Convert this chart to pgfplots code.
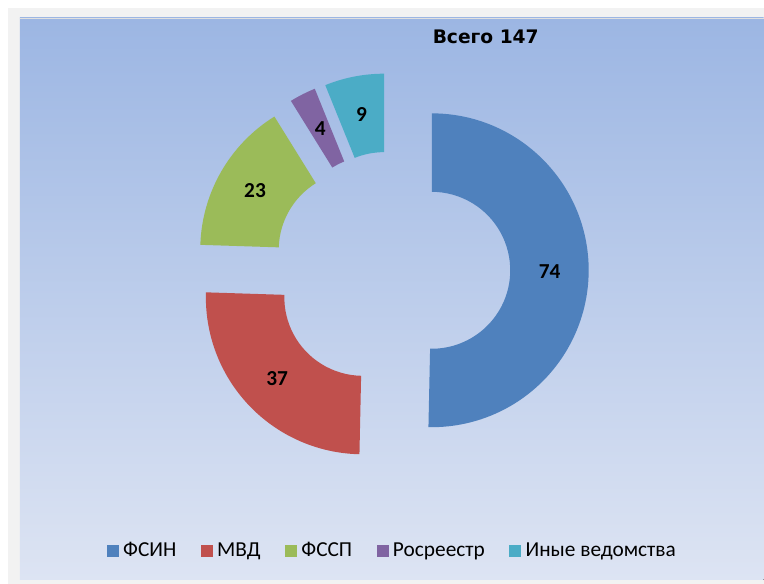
\documentclass[border=0pt]{standalone}
\usepackage{fontspec}
\setmainfont{Carlito}
\newfontfamily\titlefont{DejaVu Sans}
\usepackage{pgfplots}
\pgfplotsset{compat=1.18}

\definecolor{cFSIN}{HTML}{4F81BD}
\definecolor{cMVD}{HTML}{C0504D}
\definecolor{cFSSP}{HTML}{9BBB59}
\definecolor{cRos}{HTML}{8064A2}
\definecolor{cOther}{HTML}{4BACC6}
\definecolor{bgtop}{RGB}{156,182,227}
\definecolor{bgbot}{RGB}{221,228,243}
\definecolor{frame}{HTML}{F2F2F2}

\newcommand\lbl{\fontsize{16}{19}\selectfont\bfseries}

\begin{document}
\begin{tikzpicture}
\begin{axis}[
  scale only axis, width=573pt, height=438pt,
  xmin=0, xmax=764, ymin=0, ymax=584,
  axis lines=none, ticks=none, clip=false,
  legend columns=5,
  legend style={at={(axis cs:394,33)}, anchor=center, draw=none, fill=none,
    font=\fontsize{16}{18}\selectfont,
    nodes={inner xsep=3.5pt, inner ysep=2pt},
    /tikz/every even column/.append style={column sep=15pt}},
]
% background
\fill[white] (axis cs:0,0) rectangle (axis cs:764,584);
\fill[frame] (axis cs:8,0) rectangle (axis cs:764,576);
\fill[top color=bgtop, bottom color=bgbot] (axis cs:20,4) rectangle (axis cs:764,566);
\draw[black!12, line width=0.6pt] (axis cs:20,566) -- (axis cs:764,566);

% donut segments (total 147), exploded by 40 px
\gdef\cum{0}
\foreach \v/\c in {74/cFSIN, 37/cMVD, 23/cFSSP, 4/cRos, 9/cOther}{
  \pgfmathsetmacro\angA{90-\cum/147*360}
  \pgfmathsetmacro\cumnew{\cum+\v}
  \pgfmathsetmacro\angB{90-\cumnew/147*360}
  \pgfmathsetmacro\angM{(\angA+\angB)/2}
  \pgfmathsetmacro\cx{392+40*cos(\angM)}
  \pgfmathsetmacro\cy{314+40*sin(\angM)}
  \pgfmathsetmacro\px{\cx+157*cos(\angA)}
  \pgfmathsetmacro\py{\cy+157*sin(\angA)}
  \pgfmathsetmacro\qx{\cx+78.5*cos(\angB)}
  \pgfmathsetmacro\qy{\cy+78.5*sin(\angB)}
  \pgfmathsetmacro\lx{\cx+118*cos(\angM)}
  \pgfmathsetmacro\ly{\cy+118*sin(\angM)}
  \edef\temp{\noexpand\fill[\c] (axis cs:\px,\py)
      arc[start angle=\angA, end angle=\angB, radius=117.75pt]
      -- (axis cs:\qx,\qy)
      arc[start angle=\angB, end angle=\angA, radius=58.875pt] -- cycle;
    \noexpand\node[font=\noexpand\lbl] at (axis cs:\lx,\ly) {\v};}
  \temp
  \xdef\cum{\cumnew}
}

\node[font=\titlefont\fontsize{14}{16}\selectfont\bfseries] at (axis cs:486,547) {Всего 147};

\addlegendimage{legend image code/.code={\fill[cFSIN] (0pt,-4.1pt) rectangle (8.2pt,4.1pt);}}
\addlegendentry{ФСИН}
\addlegendimage{legend image code/.code={\fill[cMVD] (0pt,-4.1pt) rectangle (8.2pt,4.1pt);}}
\addlegendentry{МВД}
\addlegendimage{legend image code/.code={\fill[cFSSP] (0pt,-4.1pt) rectangle (8.2pt,4.1pt);}}
\addlegendentry{ФССП}
\addlegendimage{legend image code/.code={\fill[cRos] (0pt,-4.1pt) rectangle (8.2pt,4.1pt);}}
\addlegendentry{Росреестр}
\addlegendimage{legend image code/.code={\fill[cOther] (0pt,-4.1pt) rectangle (8.2pt,4.1pt);}}
\addlegendentry{Иные ведомства}
\end{axis}
\end{tikzpicture}
\end{document}
